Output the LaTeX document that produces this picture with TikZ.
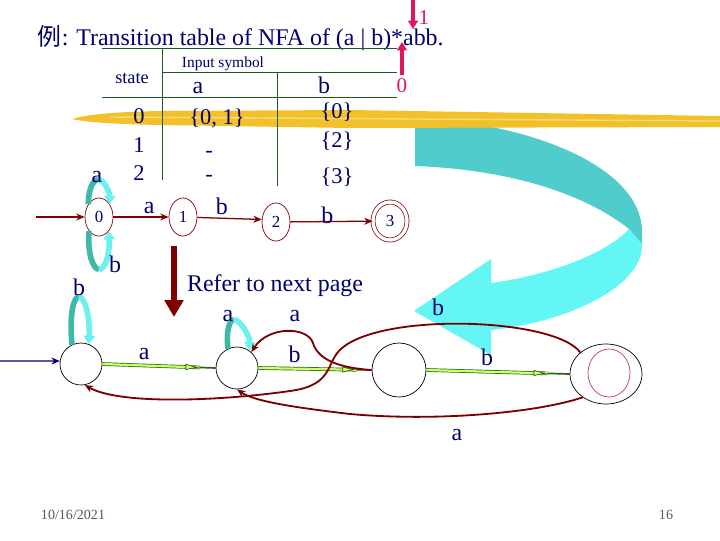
\documentclass[tikz,border=0pt]{standalone}
\usepackage{fontspec}
\setmainfont{Liberation Serif}
\newfontfamily\cjkfont{Noto Sans CJK SC}
\usepackage{tikz}
\usetikzlibrary{arrows.meta, positioning, calc, shapes.geometric}
\definecolor{SlideNavy}{RGB}{0, 0, 110}
\definecolor{SlideRed}{RGB}{128, 0, 0}
\definecolor{SlidePink}{RGB}{225, 20, 95}
\definecolor{SlideMagenta}{RGB}{190, 50, 130}
\definecolor{ArrowTeal}{RGB}{80, 204, 204}
\definecolor{ArrowCyan}{RGB}{100, 245, 245}
\definecolor{LoopTeal}{RGB}{64, 184, 168}
\definecolor{LoopCyan}{RGB}{110, 240, 240}
\definecolor{SlideYellow}{RGB}{242, 192, 40}
\definecolor{SlideGreen}{RGB}{40, 100, 20}
\definecolor{SlideLime}{RGB}{204, 255, 102}
\definecolor{TableGreen}{RGB}{30, 90, 30}

\begin{document}
\begin{tikzpicture}[
    x=0.025cm, y=-0.025cm,
    >={Stealth[length=6pt, width=5pt]},
    every node/.style={inner sep=0pt},
    title/.style={font=\fontsize{17}{17}\selectfont, text=SlideNavy},
    lab/.style={font=\fontsize{17}{17}\selectfont, text=SlideNavy},
    cell/.style={font=\fontsize{16}{16}\selectfont, text=SlideNavy, anchor=base},
    pinklab/.style={font=\fontsize{15}{15}\selectfont, text=SlidePink, anchor=base},
    footer/.style={font=\fontsize{10}{10}\selectfont, text=black!65, anchor=base},
    rule/.style={draw=TableGreen, line width=0.6pt},
    nfastate/.style={ellipse, draw=SlideRed, line width=0.5pt,
                     minimum width=0.7cm, minimum height=0.95cm,
                     font=\fontsize{12}{12}\selectfont, text=SlideNavy},
    dfastate/.style={circle, draw=black, line width=0.5pt, minimum size=1.05cm},
    nfaarr/.style={->, draw=SlideRed, line width=0.9pt},
    dfacurve/.style={->, draw=SlideRed!95!black, line width=1.3pt},
    loopdark/.style={draw=LoopTeal, line width=4pt},
    looplight/.style={draw=LoopCyan, line width=4pt, -{Triangle[width=8pt, length=6pt]}},
    greenbody/.style={draw=SlideGreen, double=SlideLime, double distance=1.6pt, line width=0.5pt},
    greentip/.style={-{Latex[length=10pt, width=4.5pt, fill=SlideLime]}, draw=SlideGreen, line width=0.5pt},
    greentail/.style={draw=SlideGreen, line width=1.2pt},
    pinkarr/.style={-{Triangle[width=7pt, length=6pt]}, draw=SlidePink, line width=2.6pt},
    bigdown/.style={-{Triangle[width=13pt, length=12pt]}, draw=SlideRed, line width=4.3pt}
]
\useasboundingbox (0,0) rectangle (720,540);

% --- Background marks ---------------------------------------------------
\fill[ArrowTeal] (415,118) .. controls (525,122) and (642,165) .. (642,232)
      -- (642,244) -- (629,229) .. controls (590,198) and (520,170) .. (415,166) -- cycle;
\fill[ArrowCyan] (629,229) -- (642,244) .. controls (644,285) and (570,322) .. (491,330)
      -- (491,355) -- (414,311) -- (491,259) -- (491,283)
      .. controls (545,276) and (605,255) .. (629,229) -- cycle;
\fill[SlideYellow] (72,119) .. controls (85,115) and (110,112) .. (160,111) -- (350,110)
      -- (720,116) -- (720,127) -- (350,128) -- (160,125)
      .. controls (110,124) and (85,122) .. (72,119) -- cycle;
\draw[SlideYellow!60!white, line width=1pt] (110,117) -- (720,121);

% --- Title --------------------------------------------------------------
\node[title, anchor=base west] (titleCJK) at (37,45) {\cjkfont 例};
\node[title, anchor=base west] (title) at (titleCJK.base east)
      {: Transition table of NFA of (a | b)*abb.};

% --- Position markers ---------------------------------------------------
\coordinate (pinkTop)    at (413,0);
\coordinate (pinkTopTip) at (413,29);
\coordinate (pinkLowTip) at (402,42);
\node[pinklab] (posOne)  at (424,24) {1};
\node[pinklab] (posZero) at (402,92) {0};
\draw[pinkarr] (pinkTop) -- (pinkTopTip);
\draw[pinkarr] ([yshift=2pt]posZero.north) -- (pinkLowTip);

% --- Table --------------------------------------------------------------
\draw[rule] (102,48) -- (397,48);
\draw[rule] (162,72) -- (397,72);
\draw[rule] (102,97) -- (397,97);
\draw[rule] (162,48) -- (162,180);
\draw[rule] (277,72) -- (277,186);

\node[anchor=base, font=\fontsize{13}{13}\selectfont, text=SlideNavy] (hState) at (132,83) {state};
\node[anchor=base, font=\fontsize{11}{11}\selectfont, text=SlideNavy] (hInput) at (223,67) {Input symbol};
\node[lab, anchor=base] (hA) at (198,93) {a};
\node[lab, anchor=base] (hB) at (324,93) {b};

\node[cell] (r0)  at (139,123) {0};
\node[cell] (r0a) at (217,124) {\{0, 1\}};
\node[cell] (r0b) at (337,118) {\{0\}};
\node[cell] (r1)  at (139,152) {1};
\node[cell] (r1a) at (209,157) {-};
\node[cell] (r1b) at (337,147) {\{2\}};
\node[cell] (r2)  at (139,180) {2};
\node[cell] (r2a) at (209,181) {-};
\node[cell] (r2b) at (337,183) {\{3\}};

% --- NFA ----------------------------------------------------------------
\node[nfastate] (s0) at (99,217)  {0};
\node[nfastate] (s1) at (183,217) {1};
\node[nfastate] (s2) at (276,222) {2};
\node[nfastate, double, double distance=2.4pt, minimum width=0.85cm] (s3) at (390,221) {3};
\coordinate (start0) at (36,217);

\draw[nfaarr] (start0) -- (s0.west);
\draw[nfaarr] (s0) -- node[lab, pos=.65, above=2pt] {a} (s1);
\draw[nfaarr] (s1) -- node[lab, pos=.38, above=2pt] {b} (s2.170);
\draw[nfaarr] (s2) -- node[lab, pos=.45, anchor=base, yshift=-1.5pt] {b} (s3);

% self loops on state 0
\coordinate (a0top) at ($(s0.north)+(-1,-18)$);
\draw[loopdark]  (s0.130) .. controls +(0,-12) and +(-6,0) .. (a0top);
\draw[looplight] (a0top) .. controls +(6,0) and +(0,-12) .. (s0.50);
\node[lab, anchor=base] (la0) at ($(a0top)+(-1,3)$) {a};

\coordinate (b0bot) at ($(s0.south)+(0,33)$);
\draw[loopdark]  (s0.235) .. controls +(-2,22) and +(-6,0) .. (b0bot);
\draw[looplight] (b0bot) .. controls +(6,0) and +(1,24) .. (s0.-55);
\node[lab, anchor=base] (lb0) at (115,272) {b};

% --- Pointer to the DFA -------------------------------------------------
\coordinate (referTop) at (174,246);
\coordinate (referTip) at (174,317);
\draw[bigdown] (referTop) -- (referTip);
\node[title, anchor=base] (refer) at (275,291) {Refer to next page};

% --- DFA ----------------------------------------------------------------
\node[dfastate] (sA) at (81,364)  {};
\node[dfastate] (sB) at (237,368) {};
\node[dfastate, minimum size=1.35cm] (sC) at (399,370) {};
\node[ellipse, draw=black, line width=0.5pt, minimum width=1.8cm, minimum height=1.5cm] (sD) at (606,374) {};
\node[ellipse, draw=SlideMagenta, line width=0.5pt, minimum width=1.05cm, minimum height=1.2cm] (sDin) at (609,373) {};
\coordinate (startA) at (0,361);
\draw[->, draw=SlideNavy, line width=0.9pt] (startA) -- (sA.172);

% green transitions
\coordinate (abHead) at ($(sB.west)!0.4cm!(sA.east)$);
\draw[greenbody] (sA.east) -- node[lab, pos=.43, above=4pt] {a} (abHead);
\draw[greentip]  ($(sB.west)!0.75cm!(sA.east)$) -- (abHead);
\draw[greentail] (abHead) -- (sB.west);

\coordinate (bcHead) at ($(sC.west)!0.38cm!(sB.east)$);
\draw[greenbody] (sB.east) -- node[lab, pos=.37, above=4pt] {b} (bcHead);
\draw[greentip]  ($(sC.west)!0.73cm!(sB.east)$) -- (bcHead);
\draw[greentail] (bcHead) -- (sC.west);

\coordinate (cdHead) at ($(sD.west)!0.55cm!(sC.east)$);
\draw[greenbody] (sC.east) -- node[lab, pos=.5, above=4pt] {b} (cdHead);
\draw[greentip]  ($(sD.west)!0.9cm!(sC.east)$) -- (cdHead);
\draw[greentail] (cdHead) -- (sD.west);

% self loops
\coordinate (aBtop) at ($(sB.north)+(-3,-27)$);
\draw[loopdark]  (sB.115) .. controls +(-2,-16) and +(-5,0) .. (aBtop);
\draw[looplight] (aBtop) .. controls +(6,0) and +(1,-14) .. (sB.55);
\node[lab, anchor=base] (laB) at (228,321) {a};

\coordinate (bAtop) at ($(sA.north)+(-2,-46)$);
\draw[loopdark]  (sA.115) .. controls +(-3,-32) and +(-5,0) .. (bAtop);
\draw[looplight] (bAtop) .. controls +(5,0) and +(1,-30) .. (sA.68);
\node[lab, anchor=base] (lbA) at (79,295) {b};

% curved transitions
\draw[dfacurve] (sC.west) .. controls (340,368) and (318,360) .. (313,343)
      .. controls (307,326) and (268,326) .. (sB.48);
\node[lab, anchor=base] (lCB) at (295,321) {a};

\draw[dfacurve] (sD.140) .. controls (555,318) and (385,312) .. (342,348)
      .. controls (325,362) and (335,385) .. (290,391)
      .. controls (220,401) and (120,405) .. (sA.-80);
\node[lab, anchor=base] (lDA) at (438,315) {b};

\draw[dfacurve] (sD.225) .. controls (540,412) and (440,422) .. (350,414)
      .. controls (300,408) and (255,402) .. (sB.-90);
\node[lab, anchor=base] (lDB) at (457,440) {a};

% --- Footer -------------------------------------------------------------
\node[footer] (date) at (73,519) {10/16/2021};
\node[footer] (page) at (666,519) {16};

\end{tikzpicture}
\end{document}
